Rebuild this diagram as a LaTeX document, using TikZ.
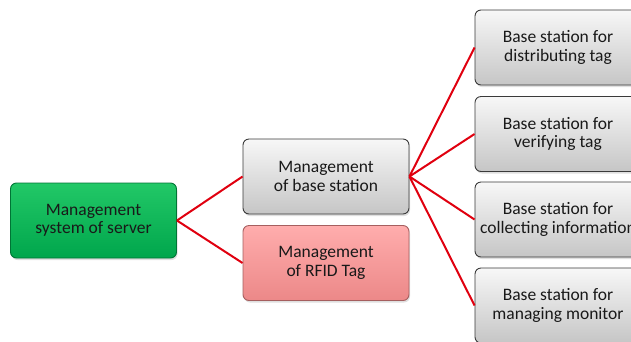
\documentclass[tikz,border=0pt]{standalone}
\usepackage{fontspec}
\setmainfont{Carlito}
\usetikzlibrary{shadows}

\definecolor{linkred}{HTML}{E0000F}
\definecolor{boxedge}{HTML}{3A3A3A}
\definecolor{greentop}{HTML}{22C867}
\definecolor{greenbot}{HTML}{00A64C}
\definecolor{pinktop}{HTML}{FFADAD}
\definecolor{pinkbot}{HTML}{EC8888}

\tikzset{
  box/.style={rounded corners=6pt, draw=boxedge, line width=0.9pt,
    minimum width=166pt, minimum height=75pt, align=center,
    font=\fontsize{17.5}{18.3}\selectfont, text=black!90,
    drop shadow={opacity=0.25, shadow xshift=1pt, shadow yshift=-2pt}},
  graybox/.style={box, top color=gray!6, bottom color=gray!45},
  greenbox/.style={box, draw=greenbot!70!black, top color=greentop, bottom color=greenbot},
  pinkbox/.style={box, draw=pinkbot!70!black, top color=pinktop, bottom color=pinkbot},
  link/.style={draw=linkred, line width=2pt}
}

\begin{document}
\begin{tikzpicture}[x=1pt,y=-1pt]
  \useasboundingbox (0,0) rectangle (631,341);
  \clip (0,0) rectangle (631,341);
  % left and middle column
  \node[greenbox] (server) at (93.5,220.5) {Management\\system of server};
  \node[graybox] (basemgmt) at (326,176.5) {Management\\of base station};
  \node[pinkbox] (tagmgmt) at (326,263) {Management\\of RFID Tag};
  % right column
  \node[graybox] (distrib) at (558,47.5) {Base station for\\distributing tag};
  \node[graybox] (verify) at (558,134) {Base station for\\verifying tag};
  \node[graybox] (collect) at (558,219.5) {Base station for\\collecting information};
  \node[graybox] (monitor) at (558,305.5) {Base station for\\managing monitor};
  % links
  \draw[link] (server.east) -- (basemgmt.west);
  \draw[link] (server.east) -- (tagmgmt.west);
  \foreach \n in {distrib,verify,collect,monitor}{
    \draw[link] (basemgmt.east) -- (\n.west);
  }
\end{tikzpicture}
\end{document}
